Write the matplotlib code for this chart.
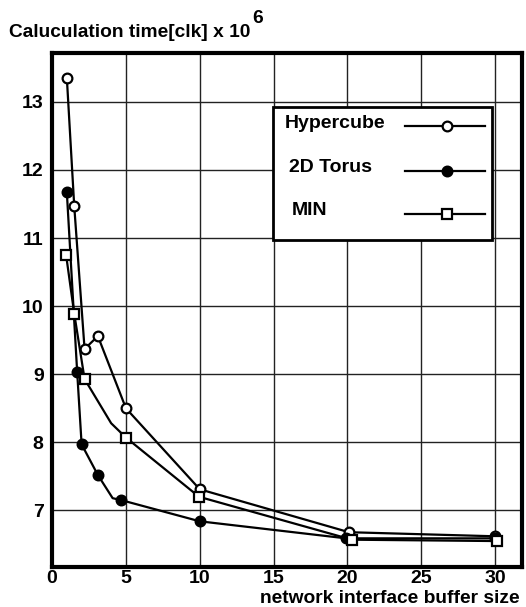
import numpy as np
import matplotlib
matplotlib.use('Agg')
import matplotlib.pyplot as plt
from matplotlib.patches import Rectangle
from matplotlib.lines import Line2D

plt.rcParams['font.family'] = ['Liberation Sans', 'DejaVu Sans']
plt.rcParams['font.weight'] = 'bold'

# values
hyper_x = [1.0, 1.5, 2.2, 3.1, 5.0, 10.0, 20.1, 30.0]
hyper_y = [13.35, 11.47, 9.37, 9.56, 8.50, 7.31, 6.68, 6.62]

torus_x = [1.0, 1.7, 2.0, 3.1, 4.1, 4.7, 10.0, 19.9, 30.0]
torus_y = [11.67, 9.03, 7.97, 7.52, 7.18, 7.15, 6.84, 6.59, 6.59]
torus_marks = [0, 1, 2, 3, 5, 6, 7, 8]

min_x = [0.95, 1.5, 2.2, 4.0, 5.0, 9.95, 20.3, 30.1]
min_y = [10.75, 9.89, 8.93, 8.28, 8.07, 7.20, 6.57, 6.55]
min_marks = [0, 1, 2, 4, 5, 6, 7]

labels = ['Hypercube', '2D Torus', 'MIN']
xticks = [0, 5, 10, 15, 20, 25, 30]
yticks = [7, 8, 9, 10, 11, 12, 13]

fig = plt.figure(figsize=(5.26, 6.07), dpi=100)
ax = fig.add_axes([0.099, 0.066, 0.893, 0.847])

lw = 1.6
ax.plot(hyper_x, hyper_y, '-o', color='black', lw=lw, ms=7, mfc='white', mew=1.6, zorder=3)
ax.plot(torus_x, torus_y, '-o', color='black', lw=lw, ms=7, mfc='black', mew=1.6,
        markevery=torus_marks, zorder=3)
ax.plot(min_x, min_y, '-s', color='black', lw=lw, ms=6.5, mfc='white', mew=1.6,
        markevery=min_marks, zorder=4)

ax.set_xlim(0, 31.8)
ax.set_ylim(6.17, 13.72)
ax.set_xticks(xticks)
ax.set_yticks(yticks)
ax.grid(True, color='#222222', lw=1.0)
ax.set_axisbelow(True)
ax.tick_params(length=0, labelsize=14)
ax.tick_params(axis='y', pad=6)
ax.tick_params(axis='x', pad=2)
for lab in ax.get_xticklabels() + ax.get_yticklabels():
    lab.set_fontweight('bold')
for s in ax.spines.values():
    s.set_linewidth(3)

# legend box drawn by hand so the texts line up on the left
ax.add_patch(Rectangle((0.47, 0.636), 0.466, 0.259, transform=ax.transAxes,
                       facecolor='white', edgecolor='black', lw=2, zorder=5))
text_x = [0.496, 0.504, 0.510]
text_y = [0.862, 0.776, 0.693]
line_y = [0.858, 0.770, 0.687]
styles = [dict(marker='o', mfc='white', ms=7),
          dict(marker='o', mfc='black', ms=7),
          dict(marker='s', mfc='white', ms=6.5)]
for lab, tx, ty, ly, st in zip(labels, text_x, text_y, line_y, styles):
    ax.text(tx, ty, lab, transform=ax.transAxes, fontsize=14, fontweight='bold',
            va='center', ha='left', zorder=6)
    ax.add_line(Line2D([0.751, 0.921], [ly, ly], transform=ax.transAxes, color='black',
                       lw=1.6, zorder=6))
    ax.add_line(Line2D([0.840], [ly], transform=ax.transAxes, color='black',
                       mew=1.6, zorder=7, **st))

fig.text(9 / 526, 1 - 37 / 607, 'Caluculation time[clk] x 10', fontsize=13.8,
         fontweight='bold', ha='left', va='baseline')
fig.text(252 / 526, 1 - 23 / 607, '6', fontsize=13.8, fontweight='bold',
         ha='left', va='baseline')
fig.text(520 / 526, 1 - 603 / 607, 'network interface buffer size', fontsize=13.8,
         fontweight='bold', ha='right', va='baseline')

fig.savefig('out.png', dpi=100)
